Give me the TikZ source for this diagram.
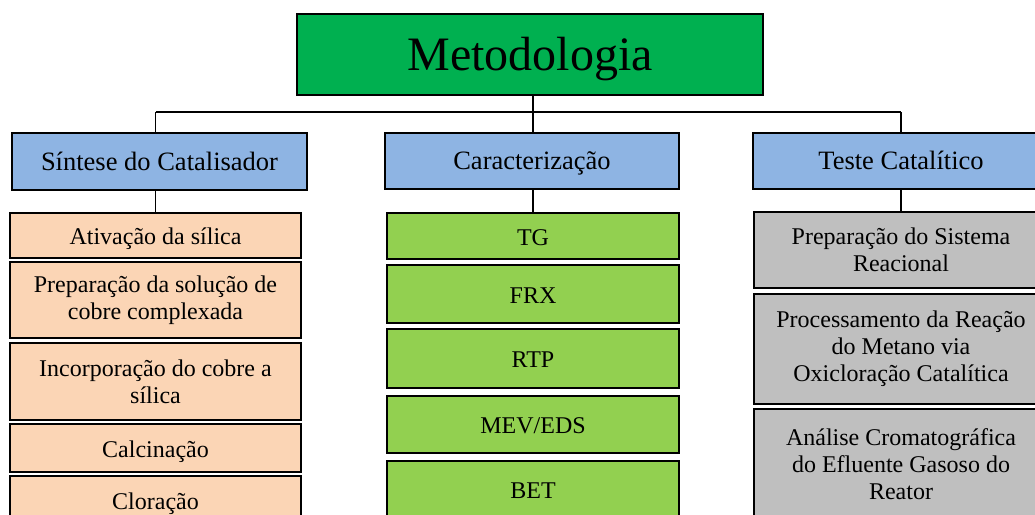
\documentclass[tikz,border=0pt]{standalone}
\usepackage{fontspec}
\setmainfont{Liberation Serif}
\definecolor{mgreen}{HTML}{00B050}
\definecolor{hblue}{HTML}{8EB4E3}
\definecolor{orng}{HTML}{FBD5B5}
\definecolor{lgreen}{HTML}{92D050}
\definecolor{gry}{HTML}{BFBFBF}
\begin{document}
\begin{tikzpicture}[x=1pt,y=-1pt,
  box/.style={draw=black, line width=1.6pt, inner sep=0pt, align=center,
    font=\fontsize{24}{27}\selectfont},
  one/.style={text height=22pt, text depth=4pt},
  head/.style={box, fill=hblue, font=\fontsize{26.5}{30}\selectfont, text height=23pt, text depth=6pt},
  obox/.style={box, fill=orng, minimum width=291pt},
  gbox/.style={box, fill=lgreen, minimum width=292pt},
  rbox/.style={box, fill=gry, minimum width=294pt},
  conn/.style={draw=black, line width=1.3pt}]
\useasboundingbox (0,0) rectangle (1035,514);
\fill[white] (0,0) rectangle (1035,514);
\clip (0,0) rectangle (1035,514);
% title
\node[box, fill=mgreen, minimum width=466pt, minimum height=81pt,
      font=\fontsize{48}{54}\selectfont, text height=38pt, text depth=7pt] (meta) at (530,54.5) {Metodologia};
% headers
\node[head, minimum width=295pt, minimum height=57pt] (s1) at (159.5,161.5) {Síntese do Catalisador};
\node[head, minimum width=294pt, minimum height=56pt] (c1) at (532,161) {Caracterização};
\node[head, minimum width=296pt, minimum height=56pt] (tt) at (901,161) {Teste Catalítico};
% left column
\node[obox, one, minimum height=45pt] (o1) at (155.5,235.5) {Ativação da sílica};
\node[obox, minimum height=76pt] (o2) at (155.5,300) {Preparação da solução de\\cobre complexada};
\node[obox, minimum height=77pt] (o3) at (155.5,381.5) {Incorporação do cobre a\\sílica};
\node[obox, one, minimum height=48pt] (o4) at (155.5,448) {Calcinação};
\node[obox, one, minimum height=48pt] (o5) at (155.5,500) {Cloração};
% middle column
\node[gbox, one, minimum height=46pt] (g1) at (533,236) {TG};
\node[gbox, one, minimum height=58pt] (g2) at (533,294) {FRX};
\node[gbox, one, minimum height=59pt] (g3) at (533,358.5) {RTP};
\node[gbox, one, minimum height=57pt] (g4) at (533,424.5) {MEV/EDS};
\node[gbox, one, minimum height=57pt] (g5) at (533,489.5) {BET};
% right column
\node[rbox, minimum height=76pt] (r1) at (901,250) {Preparação do Sistema\\Reacional};
\node[rbox, minimum height=110pt] (r2) at (901,349) {Processamento da Reação\\do Metano via\\Oxicloração Catalítica};
\node[rbox, minimum height=110pt] (r3) at (901,464) {Análise Cromatográfica\\do Efluente Gasoso do\\Reator};
% connectors
\coordinate (bus) at (0,112);
\draw[conn] (g1.north |- meta.south) -- (g1.north |- bus);
\draw[conn] (o1.north |- bus) -- (r1.north |- bus);
\draw[conn] (o1.north |- bus) -- (o1.north |- s1.north);
\draw[conn] (g1.north |- bus) -- (g1.north |- c1.north);
\draw[conn] (r1.north |- bus) -- (r1.north |- tt.north);
\draw[conn] (o1.north |- s1.south) -- (o1.north);
\draw[conn] (g1.north |- c1.south) -- (g1.north);
\draw[conn] (r1.north |- tt.south) -- (r1.north);
\end{tikzpicture}
\end{document}
